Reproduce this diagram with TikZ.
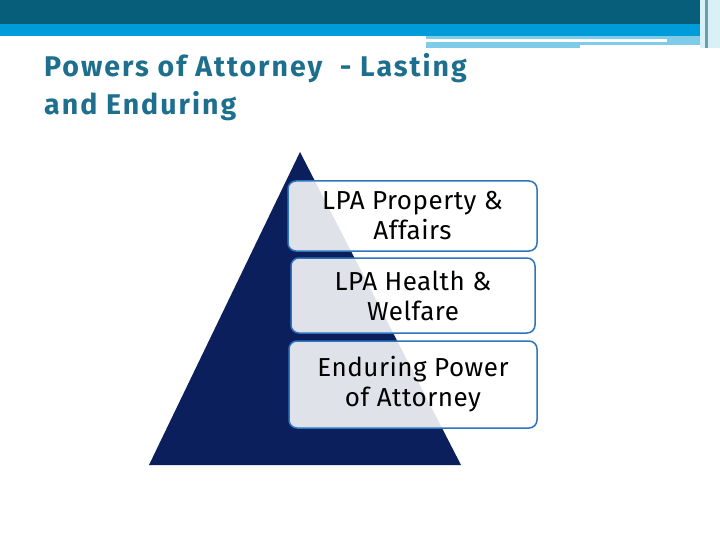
\documentclass[tikz,border=0pt]{standalone}
\usepackage{fontspec}
\setmainfont{Fira Sans}
\newfontfamily\ttlfont[LetterSpace=7]{Fira Sans}
\newfontfamily\boxfont[LetterSpace=2]{Fira Sans}
\begin{document}
\begin{tikzpicture}[x=1pt,y=-1pt,
  lbox/.style={draw=boxblue,line width=1.5pt,rounded corners=8pt,fill=white,fill opacity=0.87,text opacity=1,align=center,font=\boxfont\fontsize{26}{30}\selectfont,text=black,inner sep=0pt}]
\definecolor{dteal}{HTML}{065E7A}
\definecolor{mblue}{HTML}{009CD9}
\definecolor{lblue}{HTML}{80CCE8}
\definecolor{navy}{HTML}{0B1F5C}
\definecolor{boxblue}{HTML}{2E75C0}
\definecolor{ttl}{HTML}{1E6F8E}
\useasboundingbox (0,0) rectangle (720,540);
\fill[white] (0,0) rectangle (720,540);
\fill[dteal] (0,0) rectangle (720,24);
\fill[mblue] (0,24) rectangle (720,36);
\fill[lblue] (426,36) rectangle (700,48);
\fill[white] (426,39) rectangle (667,42);
\fill[white] (580,45) rectangle (700,48);
\fill[white!70!lblue] (700,0) rectangle (720,48);
\fill[dteal!60!white] (705,0) rectangle (708,48);
\node[anchor=north west,align=left,text=ttl,font=\ttlfont\fontsize{28.5}{38}\selectfont\bfseries,inner sep=0pt] (title) at (44,53) {Powers of Attorney\ \ - Lasting\\and Enduring};
\fill[navy] (300,152) -- (461,465) -- (149,465) -- cycle;
\node[lbox,minimum width=249,minimum height=70] (b1) at (412.5,216) {LPA Property \&\\Affairs};
\node[lbox,minimum width=244,minimum height=75] (b2) at (413,295.5) {LPA Health \&\\Welfare};
\node[lbox,minimum width=248,minimum height=87] (b3) at (413,384.5) {Enduring Power\\of Attorney};
\end{tikzpicture}
\end{document}
